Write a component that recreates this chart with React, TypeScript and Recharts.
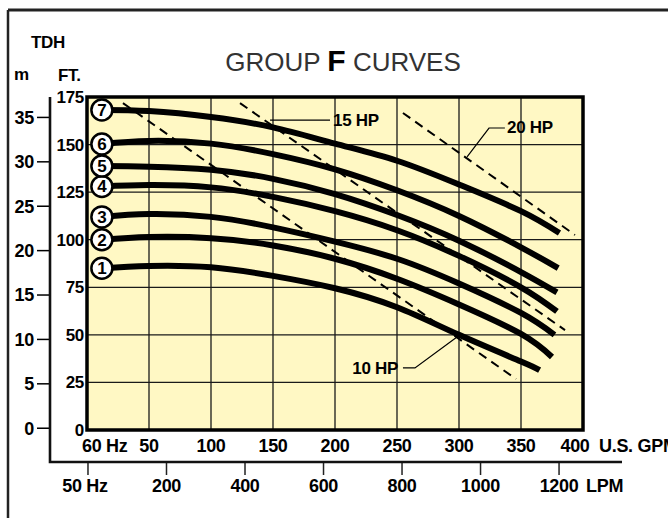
import React from 'react'
import { LineChart, Line, XAxis, YAxis, CartesianGrid, ReferenceArea, ReferenceDot } from 'recharts'

// axis ticks
const gpmTicks = [0, 50, 100, 150, 200, 250, 300, 350, 400]
const lpmTicks = [0, 200, 400, 600, 800, 1000, 1200]
const ftTicks = [0, 25, 50, 75, 100, 125, 150, 175]
const mTicks = [0, 5, 10, 15, 20, 25, 30, 35]

// pump curves (U.S. GPM vs feet of head)
const curve1 = [
  { gpm: 12, ft: 85 }, { gpm: 50, ft: 86.2 }, { gpm: 100, ft: 85.5 }, { gpm: 150, ft: 81 },
  { gpm: 200, ft: 74.5 }, { gpm: 250, ft: 64.5 }, { gpm: 300, ft: 50 }, { gpm: 350, ft: 36 }, { gpm: 365, ft: 31.5 },
]
const curve2 = [
  { gpm: 12, ft: 100 }, { gpm: 50, ft: 101.4 }, { gpm: 100, ft: 100.8 }, { gpm: 150, ft: 97 },
  { gpm: 200, ft: 90 }, { gpm: 250, ft: 79.5 }, { gpm: 300, ft: 66 }, { gpm: 350, ft: 50.5 }, { gpm: 375, ft: 38.4 },
]
const curve3 = [
  { gpm: 12, ft: 112 }, { gpm: 50, ft: 113.5 }, { gpm: 100, ft: 112 }, { gpm: 150, ft: 106.5 },
  { gpm: 200, ft: 99 }, { gpm: 250, ft: 90 }, { gpm: 300, ft: 77 }, { gpm: 350, ft: 61.5 }, { gpm: 377, ft: 50 },
]
const curve4 = [
  { gpm: 12, ft: 128 }, { gpm: 50, ft: 128.7 }, { gpm: 100, ft: 127.5 }, { gpm: 150, ft: 122.5 },
  { gpm: 200, ft: 115 }, { gpm: 250, ft: 105 }, { gpm: 300, ft: 91.5 }, { gpm: 350, ft: 75 }, { gpm: 379, ft: 62.3 },
]
const curve5 = [
  { gpm: 12, ft: 138.7 }, { gpm: 50, ft: 138.4 }, { gpm: 100, ft: 136.8 }, { gpm: 150, ft: 132 },
  { gpm: 200, ft: 124 }, { gpm: 250, ft: 113 }, { gpm: 300, ft: 99.5 }, { gpm: 350, ft: 83 }, { gpm: 379, ft: 72.3 },
]
const curve6 = [
  { gpm: 12, ft: 150.3 }, { gpm: 50, ft: 151.9 }, { gpm: 100, ft: 150.5 }, { gpm: 150, ft: 145 },
  { gpm: 200, ft: 137 }, { gpm: 250, ft: 126 }, { gpm: 300, ft: 112.5 }, { gpm: 350, ft: 96 }, { gpm: 380, ft: 85.1 },
]
const curve7 = [
  { gpm: 12, ft: 168.2 }, { gpm: 50, ft: 167.6 }, { gpm: 100, ft: 164.5 }, { gpm: 150, ft: 159 },
  { gpm: 200, ft: 150.5 }, { gpm: 250, ft: 141.5 }, { gpm: 300, ft: 129 }, { gpm: 350, ft: 115 }, { gpm: 381, ft: 103.5 },
]
const curves = [curve1, curve2, curve3, curve4, curve5, curve6, curve7]
const curveNames = ['1', '2', '3', '4', '5', '6', '7']

// horsepower limit lines
const hp10 = [{ gpm: 29, ft: 171.8 }, { gpm: 346, ft: 26.8 }]
const hp15 = [{ gpm: 123.4, ft: 171.8 }, { gpm: 385.5, ft: 52.5 }]
const hp20 = [{ gpm: 254.8, ft: 166.6 }, { gpm: 393.5, ft: 102.5 }]

// label leaders
const leader10 = [{ gpm: 298.4, ft: 48.9 }, { gpm: 264.5, ft: 32.6 }, { gpm: 254.8, ft: 32.6 }]
const leader15 = [{ gpm: 147.6, ft: 162.9 }, { gpm: 196, ft: 162.9 }]
const leader20 = [{ gpm: 306.5, ft: 143.5 }, { gpm: 324.2, ft: 158.7 }, { gpm: 337, ft: 158.7 }]
const hpLabels = [
  { text: '10 HP', gpm: 250.8, ft: 32.6, anchor: 'end' },
  { text: '15 HP', gpm: 198.4, ft: 162.9, anchor: 'start' },
  { text: '20 HP', gpm: 338.7, ft: 159.2, anchor: 'start' },
]

// span of the litres-per-minute scale (keeps the second x axis registered)
const lpmSpan = lpmTicks.map((lpm) => ({ lpm, m: 0 }))

const font = '"Liberation Sans", Arial, sans-serif'
const boldText = { fontFamily: font, fontWeight: 700, fill: '#000', letterSpacing: -0.3 }

const GpmTick = (props: any) => {
  const { x, y, payload } = props
  const v = payload.value
  const style = { ...boldText, fontSize: 18 }
  if (v === 0) return <text x={x - 5} y={y + 22} textAnchor="start" style={style}>60 Hz</text>
  if (v === 400) {
    return (
      <g>
        <text x={x - 8} y={y + 22} textAnchor="middle" style={style}>400</text>
        <text x={x + 16} y={y + 22} textAnchor="start" style={style}>U.S. GPM</text>
      </g>
    )
  }
  return <text x={x} y={y + 22} textAnchor="middle" style={style}>{v}</text>
}

const LpmTick = (props: any) => {
  const { x, y, payload } = props
  const v = payload.value
  const style = { ...boldText, fontSize: 18 }
  if (v === 0) return <text x={x - 3} y={y + 17} textAnchor="middle" style={style}>50 Hz</text>
  if (v === 1200) {
    return (
      <g>
        <text x={x} y={y + 17} textAnchor="middle" style={style}>1200</text>
        <text x={x + 27} y={y + 17} textAnchor="start" style={style}>LPM</text>
      </g>
    )
  }
  return <text x={x} y={y + 17} textAnchor="middle" style={style}>{v}</text>
}

const curveBadge = (name: string) => (props: any) => {
  const { cx, cy, index } = props
  if (index !== 0) return <g key={`d-${name}-${index}`} />
  return (
    <g key={`d-${name}-${index}`}>
      <circle cx={cx} cy={cy} r={10.5} fill="#fff" stroke="#000" strokeWidth={2.5} />
      <text x={cx} y={cy + 6} textAnchor="middle" style={{ ...boldText, fontSize: 17 }}>{name}</text>
    </g>
  )
}

export default function App() {
  return (
    <div style={{ position: 'absolute', left: 0, top: 0, width: 668, height: 518, background: '#fff', overflow: 'hidden' }}>
      <LineChart width={668} height={518} margin={{ top: 97, right: 85, bottom: 16, left: 8 }}>
        <CartesianGrid xAxisId="gpm" yAxisId="ft" stroke="#1a1a1a" strokeWidth={1.3} fill="#FFF8C4" fillOpacity={1} />
        <XAxis xAxisId="gpm" dataKey="gpm" type="number" domain={[0, 400]} ticks={gpmTicks}
          axisLine={false} tickLine={false} tickSize={0} tickMargin={0} height={32} tick={<GpmTick />} />
        <XAxis xAxisId="lpm" dataKey="lpm" type="number" domain={[-2.5, 1261]} ticks={lpmTicks} allowDataOverflow
          axisLine={false} tickLine={{ stroke: '#222', strokeWidth: 1.5 }} tickSize={13} tickMargin={0} height={40} tick={<LpmTick />} />
        <YAxis yAxisId="ft" type="number" domain={[0, 175]} ticks={ftTicks} width={37}
          axisLine={false} tickLine={false} tickSize={0} tickMargin={3}
          tick={{ ...boldText, fontSize: 17 }} />
        <YAxis yAxisId="m" type="number" domain={[-0.2, 37.3]} ticks={mTicks} width={42} allowDataOverflow
          axisLine={false} tickLine={{ stroke: '#000', strokeWidth: 1.5 }} tickSize={13} tickMargin={3}
          tick={{ ...boldText, fontSize: 18 }} />
        <Line xAxisId="lpm" yAxisId="m" data={lpmSpan} dataKey="m" stroke="transparent" strokeWidth={0}
          dot={false} activeDot={false} isAnimationActive={false} />
        {[hp10, hp15, hp20].map((d, i) => (
          <Line key={`hp${i}`} xAxisId="gpm" yAxisId="ft" data={d} dataKey="ft" type="linear"
            stroke="#000" strokeWidth={2} strokeDasharray="9 6" dot={false} isAnimationActive={false} />
        ))}
        {[leader10, leader15, leader20].map((d, i) => (
          <Line key={`ld${i}`} xAxisId="gpm" yAxisId="ft" data={d} dataKey="ft" type="linear"
            stroke="#000" strokeWidth={1.2} dot={false} isAnimationActive={false} />
        ))}
        {curves.map((d, i) => (
          <Line key={`c${i}`} xAxisId="gpm" yAxisId="ft" data={d} dataKey="ft" type="natural"
            stroke="#000" strokeWidth={6} dot={curveBadge(curveNames[i])} isAnimationActive={false} />
        ))}
        <ReferenceArea xAxisId="gpm" yAxisId="ft" x1={0} x2={400} y1={0} y2={175}
          fill="none" stroke="#000" strokeWidth={3.5} ifOverflow="visible" />
        {hpLabels.map((l) => (
          <ReferenceDot key={l.text} xAxisId="gpm" yAxisId="ft" x={l.gpm} y={l.ft} r={0} ifOverflow="visible"
            shape={(p: any) => (
              <text x={p.cx} y={p.cy + 6} textAnchor={l.anchor as any} style={{ ...boldText, fontSize: 17 }}>{l.text}</text>
            )} />
        ))}
      </LineChart>
      <svg width={668} height={518} style={{ position: 'absolute', left: 0, top: 0, pointerEvents: 'none' }}>
        <line x1={8} y1={10} x2={668} y2={10} stroke="#222" strokeWidth={3} />
        <line x1={8} y1={10} x2={8} y2={518} stroke="#222" strokeWidth={2.5} />
        <polyline points="50,97 50,462 622,462" fill="none" stroke="#111" strokeWidth={2.6} />
        <text x={31} y={48} style={{ ...boldText, fontSize: 17 }}>TDH</text>
        <text x={14} y={80} style={{ ...boldText, fontSize: 17 }}>m</text>
        <text x={58} y={81} style={{ ...boldText, fontSize: 17 }}>FT.</text>
        <text x={343} y={71} textAnchor="middle" style={{ fontFamily: font, fontSize: 26, fill: '#333' }}>
          GROUP <tspan style={{ fontWeight: 700, fontSize: 30, fill: '#000' }}>F</tspan> CURVES
        </text>
      </svg>
    </div>
  )
}
